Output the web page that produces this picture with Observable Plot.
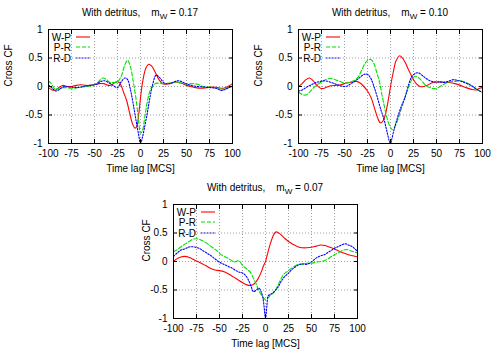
<!DOCTYPE html>
<html><head><meta charset="utf-8">
<script src="https://cdn.jsdelivr.net/npm/d3@7"></script>
<script src="https://cdn.jsdelivr.net/npm/@observablehq/plot@0.6"></script>
<style>
body{margin:0;background:#fff;}
#wrap{position:relative;width:500px;height:350px;overflow:hidden;font-family:"Liberation Sans",Arial,sans-serif;}
.panel{position:absolute;width:250px;height:175px;}
.title{position:absolute;font-size:10px;white-space:nowrap;transform:translateX(-50%);line-height:12px;color:#000;}
.title sub{font-size:8px;vertical-align:-3px;line-height:0;}
</style></head><body><div id="wrap"></div>
<script>
// ---- data ----
const xTicks = [-100,-75,-50,-25,0,25,50,75,100];
const yTicks = [-1,-0.5,0,0.5,1];
const seriesNames = ["W-P","P-R","R-D"];
const mwValues = ["0.17","0.10","0.07"];
const xLabel = "Time lag [MCS]";
const yLabel = "Cross CF";

const P1_WP = [[-100,-0.02],[-96,-0.06],[-92,-0.06],[-88,-0.01],[-84,0.02],[-80,0.0],[-75,0.0],[-70,0.02],[-65,0.03],[-60,0.02],[-55,0.02],[-50,0.03],[-45,0.05],[-40,0.05],[-35,0.02],[-31,0.03],[-27,0.08],[-23,0.07],[-18,-0.12],[-15,-0.25],[-12,-0.45],[-9,-0.64],[-6,-0.73],[-4,-0.7],[-2,-0.5],[0,-0.2],[2,0.05],[4,0.22],[6,0.33],[9,0.39],[12,0.36],[16,0.25],[20,0.12],[24,0.05],[28,0.04],[33,0.06],[38,0.08],[44,0.06],[50,0.02],[55,0.0],[60,-0.02],[66,-0.03],[72,-0.02],[78,-0.01],[84,-0.02],[90,-0.03],[95,0.0],[100,0.05]];
const P1_PR = [[-100,0.1],[-97,0.05],[-93,-0.04],[-88,-0.03],[-82,-0.02],[-75,-0.03],[-68,-0.02],[-60,0.0],[-52,0.02],[-46,0.08],[-41,0.15],[-37,0.12],[-33,0.07],[-29,0.07],[-25,0.08],[-21,0.18],[-17,0.38],[-14,0.46],[-11,0.35],[-8,0.1],[-5,-0.2],[-2,-0.6],[0,-0.82],[2,-0.78],[5,-0.5],[8,-0.22],[11,-0.05],[15,0.04],[20,0.06],[26,0.05],[32,0.06],[38,0.08],[44,0.06],[50,0.04],[56,0.05],[62,0.04],[68,0.0],[74,-0.01],[80,-0.02],[86,-0.04],[90,-0.05],[95,-0.02],[100,0.0]];
const P1_RD = [[-100,0.03],[-96,-0.03],[-92,-0.08],[-88,-0.05],[-83,0.0],[-77,-0.01],[-70,-0.02],[-62,0.0],[-55,0.02],[-48,0.04],[-43,0.09],[-39,0.1],[-34,0.06],[-30,0.02],[-25,-0.02],[-21,0.08],[-17,0.15],[-14,0.12],[-11,-0.05],[-8,-0.3],[-5,-0.58],[-2,-0.85],[0,-1.0],[2,-0.9],[4,-0.75],[7,-0.5],[10,-0.22],[13,0.02],[17,0.2],[21,0.15],[26,0.06],[32,0.05],[38,0.09],[42,0.1],[48,0.06],[55,0.02],[62,0.0],[70,-0.01],[76,-0.02],[82,-0.03],[88,-0.07],[92,-0.05],[96,-0.02],[100,0.01]];

const P2_WP = [[-100,0.0],[-96,0.05],[-92,0.12],[-88,0.15],[-84,0.1],[-80,0.02],[-76,-0.03],[-72,-0.03],[-66,0.01],[-60,0.02],[-54,0.03],[-48,0.06],[-42,0.08],[-37,0.09],[-33,0.06],[-29,0.0],[-25,-0.08],[-21,-0.2],[-17,-0.4],[-14,-0.55],[-11,-0.64],[-8,-0.6],[-5,-0.45],[-2,-0.2],[0,0.0],[3,0.25],[6,0.45],[10,0.54],[13,0.5],[16,0.42],[20,0.28],[24,0.15],[28,0.05],[32,0.0],[36,0.0],[40,0.02],[46,0.07],[52,0.08],[58,0.08],[64,0.07],[70,0.05],[76,0.02],[82,-0.02],[88,-0.05],[93,-0.06],[97,-0.03],[100,-0.02]];
const P2_PR = [[-100,-0.1],[-96,-0.14],[-92,-0.15],[-88,-0.1],[-84,-0.03],[-79,0.04],[-74,0.09],[-69,0.13],[-65,0.14],[-60,0.12],[-55,0.09],[-50,0.06],[-45,0.07],[-40,0.1],[-35,0.17],[-31,0.3],[-27,0.42],[-24,0.47],[-21,0.47],[-18,0.4],[-15,0.25],[-12,0.08],[-9,-0.17],[-6,-0.4],[-3,-0.6],[0,-0.72],[2,-0.76],[5,-0.7],[9,-0.53],[13,-0.33],[18,-0.08],[21,0.05],[24,0.14],[27,0.18],[31,0.15],[35,0.08],[40,0.0],[45,-0.03],[49,-0.04],[53,-0.01],[58,0.04],[64,0.08],[70,0.09],[76,0.1],[82,0.07],[88,0.02],[93,-0.04],[97,-0.08],[100,-0.1]];
const P2_RD = [[-100,-0.08],[-96,-0.06],[-91,-0.01],[-86,0.03],[-81,0.07],[-76,0.09],[-71,0.1],[-66,0.08],[-61,0.05],[-56,0.02],[-51,0.0],[-47,0.01],[-43,0.05],[-38,0.1],[-34,0.15],[-30,0.2],[-27,0.22],[-24,0.2],[-21,0.13],[-18,0.0],[-15,-0.15],[-11,-0.38],[-7,-0.58],[-4,-0.78],[-1,-0.97],[0,-1.0],[1,-0.95],[4,-0.75],[7,-0.58],[11,-0.38],[16,-0.18],[20,0.05],[23,0.17],[27,0.23],[30,0.24],[34,0.2],[38,0.15],[43,0.1],[48,0.08],[53,0.08],[58,0.07],[63,0.09],[68,0.12],[72,0.11],[77,0.09],[82,0.06],[88,0.01],[93,-0.04],[97,-0.08],[100,-0.1]];

const P3_WP = [[-100,0.0],[-96,0.05],[-92,0.08],[-88,0.09],[-84,0.08],[-80,0.05],[-75,0.01],[-70,-0.03],[-65,-0.07],[-60,-0.12],[-55,-0.15],[-50,-0.16],[-45,-0.18],[-40,-0.22],[-35,-0.27],[-30,-0.32],[-25,-0.37],[-20,-0.41],[-17,-0.42],[-14,-0.41],[-11,-0.37],[-8,-0.3],[-5,-0.2],[-2,-0.07],[0,0.0],[2,0.12],[5,0.3],[8,0.44],[10,0.5],[12,0.52],[16,0.48],[20,0.42],[25,0.35],[30,0.3],[35,0.26],[40,0.24],[45,0.24],[50,0.25],[55,0.27],[60,0.29],[65,0.28],[70,0.25],[75,0.22],[80,0.18],[85,0.15],[90,0.12],[95,0.1],[100,0.08]];
const P3_PR = [[-100,0.17],[-95,0.22],[-90,0.28],[-85,0.33],[-80,0.38],[-76,0.4],[-72,0.39],[-68,0.36],[-63,0.31],[-58,0.25],[-53,0.19],[-49,0.13],[-45,0.09],[-41,0.06],[-37,0.02],[-34,-0.01],[-31,0.01],[-28,0.0],[-25,-0.07],[-22,-0.11],[-19,-0.15],[-16,-0.2],[-13,-0.3],[-10,-0.4],[-7,-0.52],[-4,-0.6],[-1,-0.66],[2,-0.65],[5,-0.6],[8,-0.56],[11,-0.5],[14,-0.4],[17,-0.3],[20,-0.22],[24,-0.17],[28,-0.12],[32,-0.08],[36,-0.05],[40,-0.05],[45,-0.03],[50,-0.03],[55,-0.01],[60,0.0],[65,0.02],[70,0.07],[75,0.12],[80,0.16],[85,0.2],[88,0.21],[92,0.19],[96,0.17],[100,0.15]];
const P3_RD = [[-100,0.09],[-96,0.15],[-92,0.2],[-88,0.22],[-84,0.25],[-80,0.26],[-76,0.25],[-72,0.23],[-68,0.19],[-64,0.15],[-60,0.11],[-56,0.06],[-52,0.01],[-48,-0.03],[-44,-0.06],[-40,-0.09],[-36,-0.12],[-32,-0.16],[-28,-0.19],[-25,-0.2],[-22,-0.24],[-19,-0.31],[-16,-0.42],[-13,-0.53],[-10,-0.5],[-7,-0.47],[-5,-0.52],[-3,-0.62],[-1.5,-0.8],[0,-1.0],[1.5,-0.78],[3,-0.6],[5,-0.58],[8,-0.55],[11,-0.5],[14,-0.44],[17,-0.35],[20,-0.28],[24,-0.22],[28,-0.15],[32,-0.1],[36,-0.06],[40,-0.04],[44,-0.05],[48,-0.03],[52,0.02],[56,0.07],[60,0.1],[64,0.12],[68,0.16],[72,0.2],[76,0.24],[80,0.27],[84,0.3],[87,0.31],[90,0.29],[93,0.27],[96,0.24],[100,0.17]];

const panelData = [[P1_WP,P1_PR,P1_RD],[P2_WP,P2_PR,P2_RD],[P3_WP,P3_PR,P3_RD]];

// ---- styles / layout ----
const styles = [
  {stroke:"#ff0000", dash:null},
  {stroke:"#00e000", dash:"4,2"},
  {stroke:"#0000ff", dash:"1.5,1.5"}
];
const positions = [[0,0],[250,0],[125,175]];
const yLabelDx = [-40,-40,-27];
const W = 250, H = 175, ML = 48, MR = 18, MT = 29, MB = 32;
const wrap = document.getElementById("wrap");
const gridStyle = {stroke:"#a0a0a0", strokeOpacity:1, strokeDasharray:"1,2", strokeWidth:1};

panelData.forEach((series, pi) => {
  const [left, top] = positions[pi];
  const marks = [
    Plot.gridX(xTicks.slice(1,-1), gridStyle),
    Plot.gridY(yTicks.slice(1,-1), gridStyle),
    ...series.map((s, i) => Plot.line(s, {
      x: d => d[0], y: d => d[1],
      stroke: styles[i].stroke, strokeWidth: 1.1,
      strokeDasharray: styles[i].dash, curve: "catmull-rom"
    })),
    Plot.frame({stroke:"#000", strokeWidth:1}),
    Plot.axisX(xTicks, {anchor:"bottom", tickSize:0, tickPadding:6, label:null, tickFormat: d => String(d)}),
    Plot.axisY(yTicks, {anchor:"left", tickSize:0, tickPadding:6, label:null, tickFormat: d => String(d)}),
    Plot.axisX(xTicks, {anchor:"bottom", tickSize:4, dy:-4, fill:"none", label:null}),
    Plot.axisX(xTicks, {anchor:"top", tickSize:4, dy:4, fill:"none", label:null}),
    Plot.axisY(yTicks, {anchor:"left", tickSize:4, dx:4, fill:"none", label:null}),
    Plot.axisY(yTicks, {anchor:"right", tickSize:4, dx:-4, fill:"none", label:null}),
    Plot.text([xLabel], {text: d => d, frameAnchor:"bottom", dy:25, lineAnchor:"middle", fill:"#000"}),
    Plot.text([yLabel], {text: d => d, frameAnchor:"left", dx:yLabelDx[pi], rotate:-90, lineAnchor:"middle", fill:"#000"})
  ];
  const svg = Plot.plot({
    width: W, height: H,
    marginLeft: ML, marginRight: MR, marginTop: MT, marginBottom: MB,
    x: {domain:[-100,100]},
    y: {domain:[-1,1]},
    style: {fontFamily:'"Liberation Sans", Arial, sans-serif', fontSize:"10px", background:"transparent", color:"#000"},
    marks
  });
  // legend
  const g = d3.select(svg).append("g");
  seriesNames.forEach((name, i) => {
    const yy = Math.round(MT + 7.5 + i * 10.7);
    g.append("text").attr("x", ML + 23).attr("y", yy).attr("dy", "0.35em")
      .attr("text-anchor", "end").attr("font-size", 10).attr("fill", "#000").text(name);
    g.append("line").attr("x1", ML + 28).attr("x2", ML + 42).attr("y1", yy).attr("y2", yy)
      .attr("stroke", styles[i].stroke).attr("stroke-width", 1.1)
      .attr("stroke-dasharray", styles[i].dash);
  });
  const div = document.createElement("div");
  div.className = "panel";
  div.style.left = left + "px";
  div.style.top = top + "px";
  div.appendChild(svg);
  wrap.appendChild(div);
  const t = document.createElement("div");
  t.className = "title";
  t.style.left = (left + ML + (W - ML - MR) / 2) + "px";
  t.style.top = (top + 7) + "px";
  t.innerHTML = "With detritus,&nbsp;&nbsp;&nbsp;&nbsp;m<sub>W</sub> = " + mwValues[pi];
  wrap.appendChild(t);
});
</script>
</body></html>
